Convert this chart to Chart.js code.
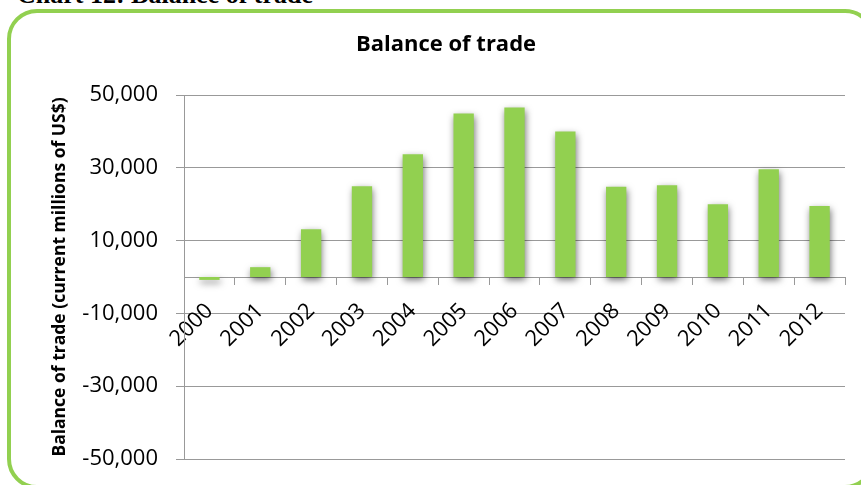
<!DOCTYPE html>
<html>
<head>
<meta charset="utf-8">
<script src="https://cdn.jsdelivr.net/npm/chart.js@4/dist/chart.umd.min.js"></script>
<style>
  html, body { margin: 0; padding: 0; background: #fff; }
  body { width: 861px; height: 485px; position: relative; overflow: hidden; }
  #caption {
    position: absolute; left: 17px; top: -18px;
    font: bold 26px/26px "Liberation Serif", "Times New Roman", serif;
    color: #000; white-space: nowrap;
  }
  #frame {
    position: absolute; left: 7px; top: 9px;
    width: 860px; height: 472px;
    border: 4px solid #92d050; border-radius: 30px;
  }
  #wrap { position: absolute; left: 0; top: 0; width: 861px; height: 485px; }
</style>
</head>
<body>
<div id="caption">Chart 12: Balance of trade</div>
<div id="frame"></div>
<div id="wrap"><canvas id="trade"></canvas></div>
<script>
const years = ["2000", "2001", "2002", "2003", "2004", "2005", "2006",
               "2007", "2008", "2009", "2010", "2011", "2012"];
// current millions of US$
const balance = [-800, 2700, 13100, 24900, 33700, 44900, 46600,
                 40000, 24800, 25200, 20000, 29600, 19500];
const yMin = -50000, yMax = 50000, yStep = 20000;

const labelFont = "'Open Sans', Lato, sans-serif";

// soft drop shadow under the bars
const barShadow = {
  id: 'barShadow',
  beforeDatasetsDraw(chart) {
    const ctx = chart.ctx;
    ctx.save();
    ctx.shadowColor = 'rgba(0,0,0,0.55)';
    ctx.shadowBlur = 7;
    ctx.shadowOffsetX = 1;
    ctx.shadowOffsetY = 3;
  },
  afterDatasetsDraw(chart) {
    chart.ctx.restore();
  }
};

new Chart(document.getElementById('trade'), {
  type: 'bar',
  data: {
    labels: years,
    datasets: [{
      label: 'Balance of trade',
      data: balance,
      backgroundColor: '#92d050',
      barPercentage: 0.4,
      categoryPercentage: 1
    }]
  },
  options: {
    responsive: true,
    maintainAspectRatio: false,
    animation: false,
    layout: { padding: { left: 47, right: 16, top: 20, bottom: 26 } },
    plugins: {
      legend: { display: false },
      tooltip: { enabled: false },
      title: {
        display: true,
        text: 'Balance of trade',
        color: '#000',
        font: { family: labelFont, size: 22, weight: 'bold' },
        padding: { top: 12, bottom: 36.6 }
      }
    },
    scales: {
      x: {
        position: { y: 0 },   // category axis sits on the zero line
        offset: true,
        grid: {
          offset: true,
          drawOnChartArea: false,
          drawTicks: true,
          tickLength: 7,
          color: '#999'
        },
        border: { display: true, color: '#999', width: 1 },
        ticks: {
          minRotation: 45,
          maxRotation: 45,
          padding: 14,
          color: '#000',
          font: { family: labelFont, size: 22 }
        }
      },
      y: {
        min: yMin,
        max: yMax,
        afterFit(scale) {
          scale.width = 137;
          // tick padding is meant sideways only, keep it out of the vertical room
          scale.paddingTop = 13;
          scale.paddingBottom = 13;
        },
        grid: { color: '#999', tickLength: 8 },
        border: { display: true, color: '#999', width: 1 },
        ticks: {
          stepSize: yStep,
          padding: 18,
          color: '#000',
          font: { family: labelFont, size: 22 },
          callback: v => v.toLocaleString('en-US')
        },
        title: {
          display: true,
          text: 'Balance of trade (current millions of US$)',
          color: '#000',
          font: { family: labelFont, size: 17.5, weight: 'bold' },
          padding: { top: 3, bottom: 3 }
        }
      }
    }
  },
  plugins: [barShadow]
});
</script>
</body>
</html>
